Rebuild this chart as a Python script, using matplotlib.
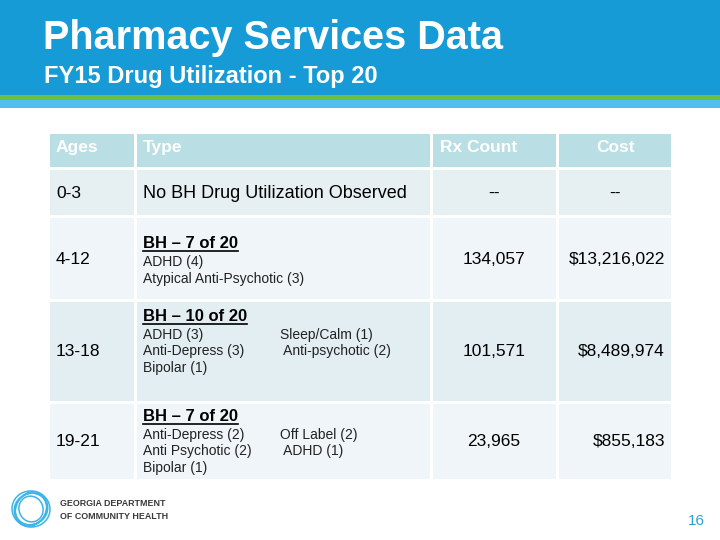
import matplotlib
matplotlib.use('Agg')
import matplotlib.pyplot as plt
from matplotlib.patches import Rectangle, Ellipse

plt.rcParams['font.family'] = ['Liberation Sans', 'DejaVu Sans']

# table data
ages = ['0-3', '4-12', '13-18', '19-21']
bh_heads = [None, 'BH \u2013 7 of 20', 'BH \u2013 10 of 20', 'BH \u2013 7 of 20']
left_items = [[], ['ADHD (4)', 'Atypical Anti-Psychotic (3)'],
              ['ADHD (3)', 'Anti-Depress (3)', 'Bipolar (1)'],
              ['Anti-Depress (2)', 'Anti Psychotic (2)', 'Bipolar (1)']]
right_items = [[], [], ['Sleep/Calm (1)', ' Anti-psychotic (2)'],
               ['Off Label (2)', ' ADHD (1)']]
rx_count = ['--', '134,057', '101,571', '23,965']
cost = ['--', '$13,216,022', '$8,489,974', '$855,183']
headers = ['Ages', 'Type', 'Rx Count', 'Cost']

# layout in pixels
col_x = [48, 135, 431, 557, 672]
row_y = [132, 168, 216, 300, 402, 480]
row_cols = ['#e3eef2', '#e6f0f3', '#eff5f8', '#e3eef2', '#eff5f8']
bh_base = [None, 248, 321, 421]

fig = plt.figure(figsize=(7.2, 5.4), dpi=100)
ax = fig.add_axes([0, 0, 1, 1])
ax.set_xlim(0, 720)
ax.set_ylim(540, 0)
ax.axis('off')
rend = fig.canvas.get_renderer()

# banner
ax.add_patch(Rectangle((0, 0), 720, 95, color='#169bd7', lw=0))
ax.add_patch(Rectangle((0, 95), 720, 5, color='#6cbf3f', lw=0))
ax.add_patch(Rectangle((0, 100), 720, 8, color='#52bfee', lw=0))
ax.text(43, 38, 'Pharmacy Services Data', color='white', fontsize=28.5,
        fontweight='bold', va='center', ha='left')
ax.text(44, 76, 'FY15 Drug Utilization - Top 20', color='white', fontsize=17,
        fontweight='bold', va='center', ha='left')

# cells
for r in range(5):
    for c in range(4):
        fc = '#b9dfe5' if r == 0 else row_cols[r]
        ax.add_patch(Rectangle((col_x[c] + 1.5, row_y[r] + 1.5),
                               col_x[c + 1] - col_x[c] - 3, row_y[r + 1] - row_y[r] - 3,
                               color=fc, lw=0))

hy = 147.5
ax.text(56, hy, headers[0], color='white', fontsize=12.5, fontweight='bold', va='center')
ax.text(143, hy, headers[1], color='white', fontsize=12.5, fontweight='bold', va='center')
ax.text(440, hy, headers[2], color='white', fontsize=12.5, fontweight='bold', va='center')
ax.text((col_x[3] + col_x[4]) / 2 + 1, hy, headers[3], color='white', fontsize=12.5,
        fontweight='bold', va='center', ha='center')

for i in range(4):
    y0, y1 = row_y[i + 1], row_y[i + 2]
    ym = (y0 + y1) / 2 + 1
    ax.text(56, ym, ages[i], fontsize=12.5, va='center', color='black')
    ax.text((col_x[2] + col_x[3]) / 2, ym, rx_count[i], fontsize=12.5, va='center',
            ha='center', color='black')
    ha = 'center' if cost[i] == '--' else 'right'
    cx = (col_x[3] + col_x[4]) / 2 if cost[i] == '--' else 665
    ax.text(cx, ym, cost[i], fontsize=12.5, va='center', ha=ha, color='black')
    if bh_heads[i] is None:
        ax.text(143, ym, 'No BH Drug Utilization Observed', fontsize=13, va='center')
        continue
    ty = bh_base[i]
    t = ax.text(143, ty, bh_heads[i], fontsize=12, fontweight='bold', va='baseline')
    bb = t.get_window_extent(rend)
    ax.plot([143, 143 + bb.width], [ty + 2.5, ty + 2.5], color='black', lw=1.2)
    for k, s in enumerate(left_items[i]):
        ax.text(143, ty + 18 + 16.5 * k, s, fontsize=10, va='baseline', color='#222222')
    for k, s in enumerate(right_items[i]):
        ax.text(280, ty + 18 + 16.5 * k, s, fontsize=10, va='baseline', color='#222222')

# logo
for (w, h, a) in [(38, 36, 10), (34, 31, -25), (30, 33, 40), (26, 24, 70), (36, 30, 120)]:
    ax.add_patch(Ellipse((31, 509), w, h, angle=a, fill=False,
                         edgecolor='#3cb4e6', lw=1.1))
ax.text(60, 506, 'GEORGIA DEPARTMENT', fontsize=6.4, fontweight='bold', color='#3a3a3a',
        va='baseline')
ax.text(60, 519, 'OF COMMUNITY HEALTH', fontsize=6.4, fontweight='bold', color='#3a3a3a',
        va='baseline')
ax.text(705, 521, '16', fontsize=11, color='#2aa0d8', va='center', ha='right')

fig.savefig('out.png', dpi=100, facecolor='white')
